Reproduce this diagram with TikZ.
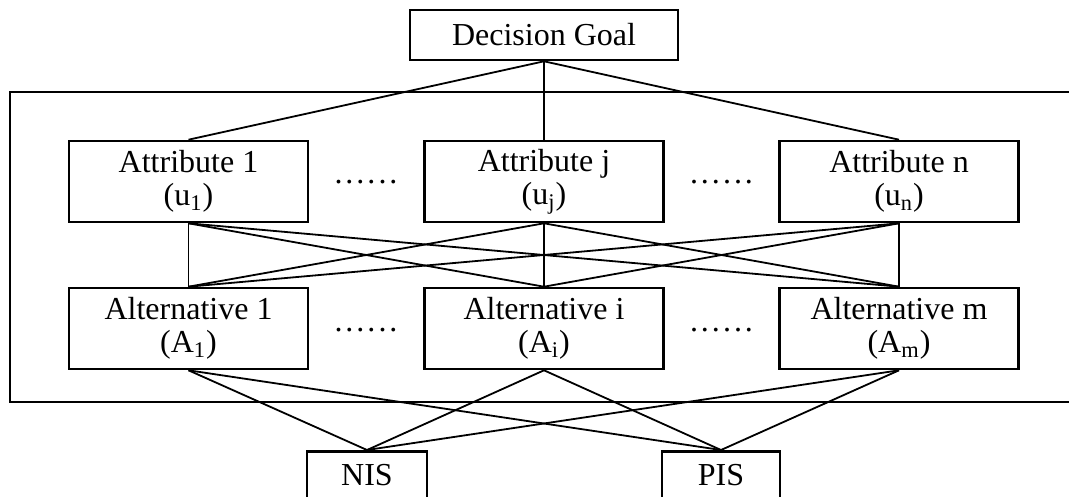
\documentclass[tikz,border=0pt]{standalone}
\usepackage{fontspec}
\setmainfont{Liberation Serif}
\newcommand{\sixdots}{.\kern1.5pt.\kern1.5pt.\kern1.5pt.\kern1.5pt.\kern1.5pt.}
\begin{document}
\begin{tikzpicture}[x=0.5pt, y=-0.5pt, line width=0.9pt,
   box/.style={draw, line width=1.3pt, align=center, inner sep=0pt,
      font=\fontsize{16}{16.5}\selectfont},
   wide/.style={box, minimum width=119.5pt, minimum height=40.5pt},
   gap/.style={anchor=base, inner sep=0pt, font=\fontsize{16}{16.5}\selectfont}]
   \clip (0,0) rectangle (1069,497);
   % Goal and frame
   \node[box, minimum width=134pt, minimum height=25pt] (G) at (544,35) {Decision Goal};
   \draw[line width=1.3pt] (10,92) rectangle (1080,402);
   % Attributes
   \node[wide] (U1) at (188.5,181.5) {Attribute 1\\(u\textsubscript{1})};
   \node[wide] (U2) at (544,181.5) {Attribute j\\(u\textsubscript{j})};
   \node[wide] (U3) at (899,181.5) {Attribute n\\(u\textsubscript{n})};
   \node[gap] (DU1) at (366,184) {\sixdots};
   \node[gap] (DU2) at (721.5,184) {\sixdots};
   % Alternatives
   \node[wide] (A1) at (188.5,328.5) {Alternative 1\\(A\textsubscript{1})};
   \node[wide] (A2) at (544,328.5) {Alternative i\\(A\textsubscript{i})};
   \node[wide] (A3) at (899,328.5) {Alternative m\\(A\textsubscript{m})};
   \node[gap] (DA1) at (366,331) {\sixdots};
   \node[gap] (DA2) at (721.5,331) {\sixdots};
   % Ideal solutions
   \node[box, anchor=north, minimum width=60pt, text height=11pt, text depth=30pt,
      inner ysep=6pt] (N) at (367,450) {NIS};
   \node[box, anchor=north, minimum width=59pt, text height=11pt, text depth=30pt,
      inner ysep=6pt] (P) at (721,450) {PIS};
   % Links
   \foreach \i in {1,2,3} {
      \draw (G.south) -- (U\i.north);
      \foreach \j in {1,2,3} {
         \draw (U\i.south) -- (A\j.north);
      }
      \draw (A\i.south) -- (N.north);
      \draw (A\i.south) -- (P.north);
   }
\end{tikzpicture}
\end{document}
